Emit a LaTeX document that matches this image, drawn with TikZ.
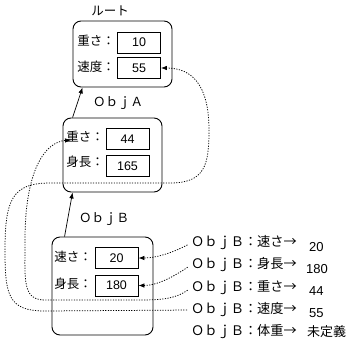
\documentclass[tikz,border=0pt]{standalone}
\usepackage{fontspec}
\setmainfont{Liberation Sans}
\newfontfamily\jp{Noto Sans CJK JP}
\usepackage{tikz}
\usetikzlibrary{arrows.meta,positioning,calc}
\tikzset{
  objbox/.style = {draw, line width=0.9pt, rounded corners=8pt},
  valbox/.style = {draw, line width=0.8pt, minimum width=43pt, minimum height=21pt,
                   inner sep=0pt, font=\fontsize{12.5}{14}\selectfont},
  keylab/.style = {inner sep=0pt, font=\jp\fontsize{12.5}{14}\selectfont},
  qlab/.style   = {inner sep=0pt, anchor=west, font=\jp\fontsize{13.2}{15}\selectfont},
  vallab/.style = {inner sep=0pt, anchor=west, font=\fontsize{13}{15}\selectfont},
  ptr/.style    = {-{Latex[length=6pt,width=4.5pt]}, line width=0.7pt},
  ref/.style    = {-{Latex[length=6pt,width=4.5pt]}, line width=0.75pt,
                   dash pattern=on 1.2pt off 1.4pt},
}
\begin{document}
\begin{tikzpicture}[x=1pt,y=-1pt]
\useasboundingbox (0,0) rectangle (350,340);
% root
\node[keylab] (rootname) at (110,11) {ルート};
\node[objbox, minimum width=99pt, minimum height=66pt] (root) at (122.5,54) {};
\node[keylab] (rk1) at (96,41) {重さ：};
\node[valbox] (rv1) at (139,42.5) {10};
\node[keylab] (rk2) at (96,67) {速度：};
\node[valbox] (rv2) at (139,68) {55};
% ObjA
\node[keylab] (aname) at (118,103) {ＯｂｊＡ};
\node[objbox, minimum width=99pt, minimum height=74pt] (objA) at (112.5,155) {};
\node[keylab] (ak1) at (85,137) {重さ：};
\node[valbox] (av1) at (127.5,139) {44};
\node[keylab] (ak2) at (85,162) {身長：};
\node[valbox] (av2) at (127.5,166) {165};
% ObjB
\node[keylab] (bname) at (104,219) {ＯｂｊＢ};
\node[objbox, minimum width=101pt, minimum height=98pt] (objB) at (102.5,286) {};
\node[keylab] (bk1) at (73,257) {速さ：};
\node[valbox] (bv1) at (116.5,258) {20};
\node[keylab] (bk2) at (73,284) {身長：};
\node[valbox] (bv2) at (116.5,285.5) {180};
% lookups
\foreach \i/\k/\yy in {1/速さ/243, 2/身長/265, 3/重さ/288, 4/速度/310, 5/体重/332}
  \node[qlab] (q\i) at (191,\yy) {ＯｂｊＢ：\k→};
\node[vallab] (a1) at (309,247) {20};
\node[vallab] (a2) at (306,269) {180};
\node[vallab] (a3) at (309,291) {44};
\node[vallab] (a4) at (309,313) {55};
\node[vallab, font=\jp\fontsize{13}{15}\selectfont] (a5) at (307,332) {未定義};
% prototype links
\draw[ptr] ($(objA.north west)+(10,0)$) -- ($(root.south west)+(10,0)$);
\draw[ptr] ($(objB.north west)+(13,0)$) -- ($(objA.south west)+(10,0)$);
% found in ObjB
\draw[ref, shorten <=4pt] (q1.west) .. controls +(-15,8) and +(20,0) .. (bv1.east);
\draw[ref, shorten <=4pt] (q2.west) .. controls +(-15,10) and +(20,0) .. (bv2.east);
% found in ObjA
\draw[ref, shorten <=4pt] (q3.west) .. controls +(-15,10) and (165,300) .. (140,300)
  -- (45,300) .. controls (22,300) and (25,280) .. (25,240)
  .. controls (25,170) and (45,142) .. ($(ak1.west)+(5,3)$);
% found in root
\draw[ref, shorten <=4pt] (q4.west) -- (45,311) .. controls (8,311) and (5,295) .. (5,250)
  .. controls (5,200) and (12,183) .. (50,183) -- (170,183)
  .. controls (205,183) and (209,165) .. (209,130)
  .. controls (209,85) and (192,68) .. (rv2.east);
\end{tikzpicture}
\end{document}
